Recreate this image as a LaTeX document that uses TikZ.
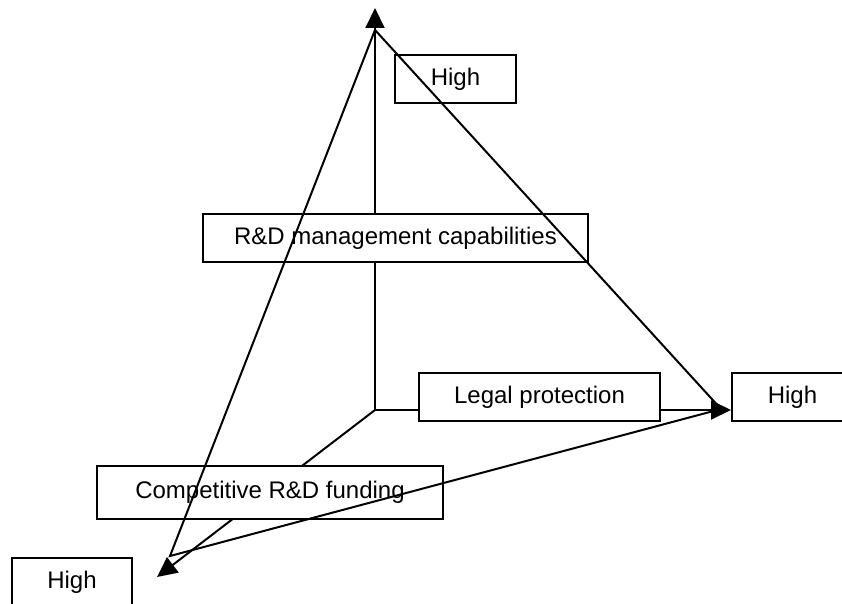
\documentclass[tikz,border=0pt]{standalone}
\usepackage{fontspec}
\setmainfont{Liberation Sans}
\usetikzlibrary{arrows.meta}
\begin{document}
\begin{tikzpicture}[x=1pt,y=-1pt,
  lbox/.style={draw=black,fill=white,line width=2pt,minimum height=48pt,inner sep=0pt,
    font=\fontsize{24pt}{29pt}\selectfont},
  axis/.style={line width=2pt,-{Triangle[length=20pt,width=19pt]}},
  tri/.style={line width=2pt,line cap=round}]
\clip (0,0) rectangle (842,604);
\useasboundingbox (0,0) rectangle (842,604);
% axis points
\coordinate (O) at (375,410);
\coordinate (ztip) at (375,8);
\coordinate (xtip) at (731,410);
\coordinate (ytip) at (157,577);
\coordinate (apex) at (375,30);
\coordinate (rv) at (721,409);
\coordinate (bv) at (170,556);
% axes
\draw[axis] (O) -- (ztip);
\draw[axis] (O) -- (xtip);
\draw[axis] (O) -- (ytip);
% boxes
\node[lbox,minimum width=121pt] (hz) at (455.5,79) {High};
\node[lbox,minimum width=385pt] (rd) at (395.5,238) {R\&D management capabilities};
\node[lbox,minimum width=241pt] (lp) at (539.5,397) {Legal protection};
\node[lbox,minimum width=121pt] (hx) at (792.5,397) {High};
\node[lbox,minimum width=346pt,minimum height=53pt] (cf) at (270,492.5) {Competitive R\&D funding};
\node[lbox,minimum width=120pt] (hy) at (72,582) {High};
% triangle
\draw[tri] (apex) -- (rv);
\draw[tri] (apex) -- (bv) -- (rv);
\end{tikzpicture}
\end{document}
